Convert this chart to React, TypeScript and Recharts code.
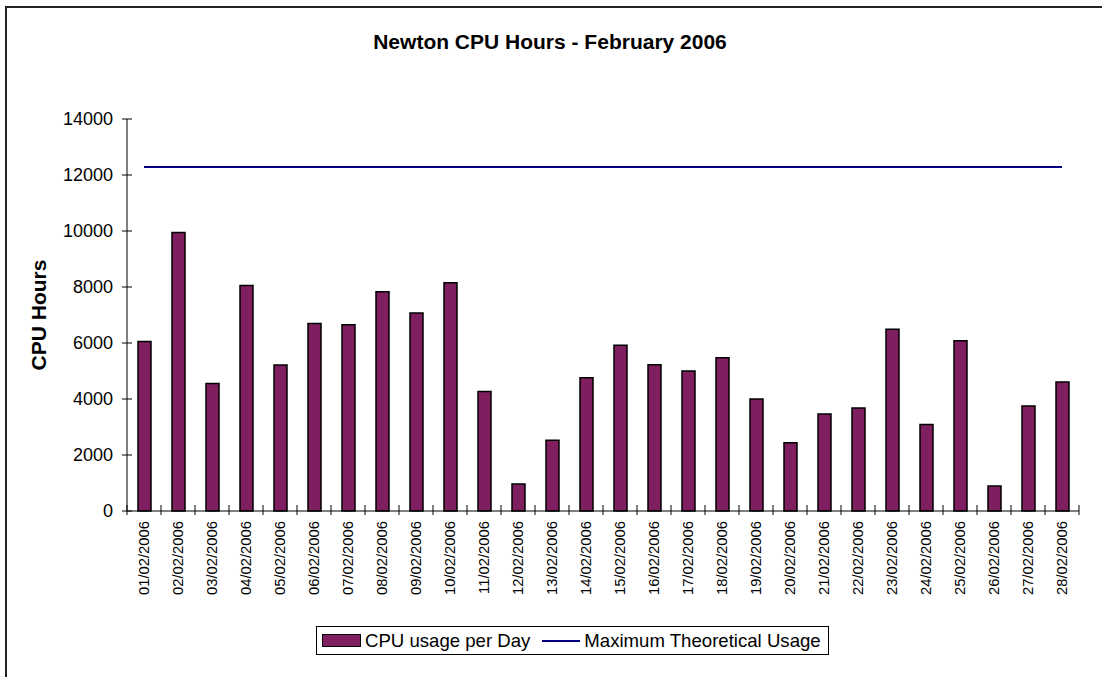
import { ComposedChart, Bar, Line, XAxis, YAxis, Legend } from 'recharts'

const days = [
  '01/02/2006', '02/02/2006', '03/02/2006', '04/02/2006', '05/02/2006', '06/02/2006', '07/02/2006',
  '08/02/2006', '09/02/2006', '10/02/2006', '11/02/2006', '12/02/2006', '13/02/2006', '14/02/2006',
  '15/02/2006', '16/02/2006', '17/02/2006', '18/02/2006', '19/02/2006', '20/02/2006', '21/02/2006',
  '22/02/2006', '23/02/2006', '24/02/2006', '25/02/2006', '26/02/2006', '27/02/2006', '28/02/2006',
]

const cpuUsage = [
  6050, 9950, 4550, 8050, 5210, 6700, 6650, 7830, 7070, 8150, 4270, 960, 2530, 4760,
  5920, 5220, 5000, 5470, 4000, 2440, 3460, 3680, 6490, 3090, 6080, 890, 3750, 4610,
]

const maxUsage = [
  12288, 12288, 12288, 12288, 12288, 12288, 12288, 12288, 12288, 12288, 12288, 12288, 12288, 12288,
  12288, 12288, 12288, 12288, 12288, 12288, 12288, 12288, 12288, 12288, 12288, 12288, 12288, 12288,
]

const yTicks = [0, 2000, 4000, 6000, 8000, 10000, 12000, 14000]

const data = days.map((day, i) => ({ day, cpu: cpuUsage[i], max: maxUsage[i] }))

const FONT = '"Liberation Sans", Arial, sans-serif'
const BAR_COLOR = '#7f1f5f'
const LINE_COLOR = '#000080'

const W = 1102
const H = 677
const PLOT_LEFT = 127
const PLOT_RIGHT = 1079
const BAND = (PLOT_RIGHT - PLOT_LEFT) / days.length

const YTick = (props: any) => {
  const { x, y, payload } = props
  return (
    <g>
      <line x1={x - 5} x2={x + 5} y1={y} y2={y} stroke="#000" strokeWidth={1} />
      <text x={x - 14} y={y} textAnchor="end" dominantBaseline="central" fontSize={18} fill="#000" fontFamily={FONT}>
        {payload.value}
      </text>
    </g>
  )
}

const XTick = (props: any) => {
  const { x, y, payload, index } = props
  const ty = y + 10
  return (
    <g>
      <line x1={x - BAND / 2} x2={x - BAND / 2} y1={y - 6} y2={y + 4} stroke="#000" strokeWidth={1} />
      {index === days.length - 1 && (
        <line x1={x + BAND / 2} x2={x + BAND / 2} y1={y - 6} y2={y + 4} stroke="#000" strokeWidth={1} />
      )}
      <text
        x={x}
        y={ty}
        transform={`rotate(-90 ${x} ${ty})`}
        textAnchor="end"
        dominantBaseline="central"
        fontSize={14.8}
        fill="#000"
        fontFamily={FONT}
      >
        {payload.value}
      </text>
    </g>
  )
}

const YLabel = (props: any) => {
  const { viewBox } = props
  const x = viewBox.x + 38
  const y = viewBox.y + viewBox.height / 2
  return (
    <text
      x={x}
      y={y}
      transform={`rotate(-90 ${x} ${y})`}
      textAnchor="middle"
      dominantBaseline="central"
      fontSize={21}
      fontWeight="bold"
      fill="#000"
      fontFamily={FONT}
    >
      CPU Hours
    </text>
  )
}

const LegendBox = () => (
  <div
    style={{
      display: 'inline-flex',
      alignItems: 'center',
      boxSizing: 'border-box',
      height: 29,
      border: '1px solid #000',
      background: '#fff',
      padding: '0 7px 0 5px',
      fontFamily: FONT,
      fontSize: 18.6,
      color: '#000',
      whiteSpace: 'nowrap',
    }}
  >
    <span
      style={{
        display: 'inline-block',
        boxSizing: 'border-box',
        width: 39,
        height: 13,
        background: BAR_COLOR,
        border: '1.5px solid #000',
        marginRight: 4,
      }}
    />
    <span>CPU usage per Day</span>
    <span style={{ display: 'inline-block', width: 38, height: 2, background: LINE_COLOR, margin: '0 4px 0 12px' }} />
    <span>Maximum Theoretical Usage</span>
  </div>
)

export default function App() {
  return (
    <div
      style={{
        position: 'absolute',
        left: 0,
        top: 0,
        width: W,
        height: H,
        overflow: 'hidden',
        background: '#fff',
        fontFamily: FONT,
      }}
    >
      <div
        style={{
          position: 'absolute',
          left: 5,
          top: 6,
          width: W + 50,
          height: H + 50,
          border: '2px solid #222',
        }}
      />
      <div
        style={{
          position: 'absolute',
          left: 0,
          top: 30,
          width: 1100,
          textAlign: 'center',
          fontSize: 21,
          fontWeight: 'bold',
          color: '#000',
        }}
      >
        Newton CPU Hours - February 2006
      </div>
      <div style={{ position: 'absolute', left: 0, top: 0 }}>
        <ComposedChart width={W} height={H} data={data} margin={{ top: 119, right: W - PLOT_RIGHT, left: 0, bottom: 0 }}>
          <XAxis
            dataKey="day"
            interval={0}
            height={137}
            tickSize={0}
            tickMargin={0}
            tickLine={false}
            axisLine={{ stroke: '#000', strokeWidth: 1 }}
            tick={<XTick />}
          />
          <YAxis
            width={PLOT_LEFT}
            domain={[0, 14000]}
            ticks={yTicks}
            interval={0}
            tickSize={0}
            tickMargin={0}
            tickLine={false}
            axisLine={{ stroke: '#000', strokeWidth: 1 }}
            tick={<YTick />}
            label={{ content: <YLabel /> }}
          />
          <Legend
            verticalAlign="bottom"
            content={() => <LegendBox />}
            wrapperStyle={{ left: 316, top: 626, width: 'auto', height: 29 }}
          />
          <Bar
            dataKey="cpu"
            name="CPU usage per Day"
            fill={BAR_COLOR}
            stroke="#000"
            strokeWidth={1.5}
            barSize={13}
            isAnimationActive={false}
          />
          <Line
            dataKey="max"
            name="Maximum Theoretical Usage"
            type="linear"
            stroke={LINE_COLOR}
            strokeWidth={2}
            dot={false}
            activeDot={false}
            isAnimationActive={false}
          />
        </ComposedChart>
      </div>
    </div>
  )
}
